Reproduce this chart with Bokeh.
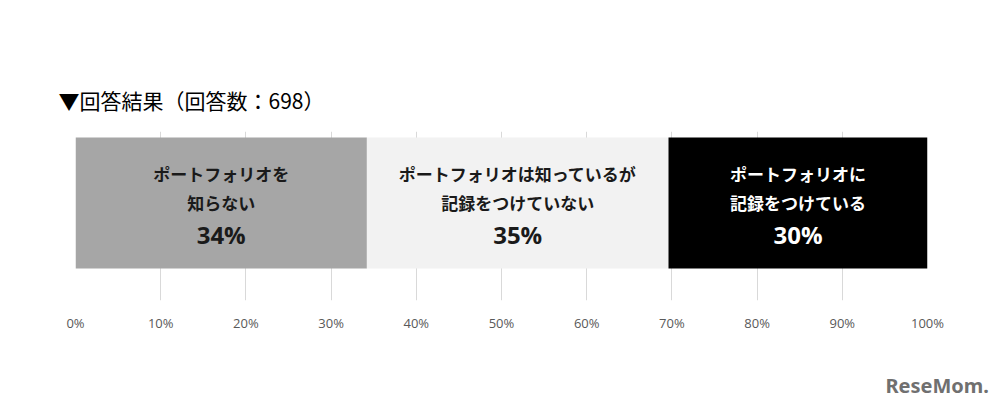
from bokeh.plotting import figure
from bokeh.models import Range1d, FixedTicker, ColumnDataSource, Title, Div
from bokeh.layouts import column
from bokeh.core.properties import value
from bokeh.embed import file_html
from bokeh.resources import INLINE

# ---- data ----
categories = ["ポートフォリオを知らない", "ポートフォリオは知っているが記録をつけていない", "ポートフォリオに記録をつけている"]
values = [34.2, 35.4, 30.4]
line1 = ["ポートフォリオを", "ポートフォリオは知っているが", "ポートフォリオに"]
line2 = ["知らない", "記録をつけていない", "記録をつけている"]
pct_labels = ["34%", "35%", "30%"]
tick_values = [0, 10, 20, 30, 40, 50, 60, 70, 80, 90, 100]
title_text = "▼回答結果（回答数：698）"
logo_text = "ReseMom."

# ---- styles ----
fills = ["#a6a6a6", "#f2f2f2", "#000000"]
text_colors = ["#1a1a1a", "#1a1a1a", "#ffffff"]

lefts, rights, mids = [], [], []
acc = 0.0
for v in values:
    lefts.append(acc)
    rights.append(acc + v)
    mids.append(acc + v / 2)
    acc += v

src = ColumnDataSource(dict(left=lefts, right=rights, mid=mids, fill=fills,
                            tc=text_colors, l1=line1, l2=line2, pct=pct_labels,
                            cat=categories))

p = figure(width=986, height=340, output_backend="svg", toolbar_location=None,
           x_range=Range1d(0, 100), y_range=Range1d(0, 1),
           min_border_left=75, min_border_right=59, min_border_top=131, min_border_bottom=40)
p.outline_line_color = None
p.background_fill_color = "white"
p.border_fill_color = "white"
p.yaxis.visible = False
p.ygrid.visible = False

p.xaxis.ticker = FixedTicker(ticks=tick_values)
p.xaxis.major_label_overrides = {t: f"{t}%" for t in tick_values}
p.xaxis.axis_line_color = None
p.xaxis.major_tick_line_color = None
p.xaxis.minor_tick_line_color = None
p.xaxis.major_tick_out = 0
p.xaxis.major_tick_in = 0
p.xaxis.major_label_standoff = 13
p.xaxis.major_label_text_font = "Open Sans"
p.xaxis.major_label_text_font_size = "13px"
p.xaxis.major_label_text_color = "#595959"
p.xgrid.ticker = FixedTicker(ticks=tick_values)
p.xgrid.grid_line_color = "#d9d9d9"
p.xgrid.grid_line_width = 1

p.quad(left="left", right="right", bottom=0.19, top=0.964, fill_color="fill",
       line_color=None, source=src)

p.text(x="mid", y=0.751, text="l1", text_color="tc", text_align="center",
       text_baseline="middle", text_font=value("Noto Sans CJK JP"),
       text_font_style="bold", text_font_size="17px", source=src)
p.text(x="mid", y=0.580, text="l2", text_color="tc", text_align="center",
       text_baseline="middle", text_font=value("Noto Sans CJK JP"),
       text_font_style="bold", text_font_size="17px", source=src)
p.text(x="mid", y=0.392, text="pct", text_color="tc", text_align="center",
       text_baseline="middle", text_font=value("Open Sans"),
       text_font_style="bold", text_font_size="24px", source=src)

title = Title(text=title_text, align="left", offset=-17, standoff=29,
              vertical_align="top",
              text_font="Noto Sans CJK JP", text_font_style="normal",
              text_font_size="21px", text_color="#000000")
p.add_layout(title, "above")

# logo strip below the chart
logo = Div(text=logo_text, width=986, height=56,
           styles={"text-align": "right", "font-family": "Noto Sans",
                   "font-weight": "bold", "font-size": "20px", "line-height": "20px",
                   "color": "#707070", "padding-top": "31px", "padding-right": "2px",
                   "box-sizing": "border-box"})

layout = column(p, logo, spacing=0)
open("out.html", "w").write(file_html(layout, INLINE))
